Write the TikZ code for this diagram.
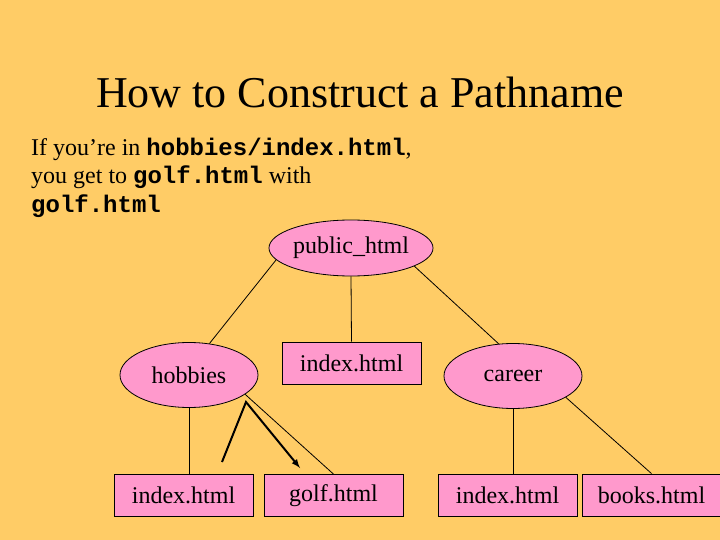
\documentclass[tikz,border=0pt]{standalone}
\usepackage{fontspec}
\setmainfont{Liberation Serif}
\setmonofont{Liberation Mono}
\usetikzlibrary{arrows,shapes.geometric}
\definecolor{slide_orange}{RGB}{255, 204, 102}
\definecolor{file_pink}{RGB}{255, 153, 204}
\tikzstyle{dn}=[ellipse,fill=file_pink,draw=black,
  line width=0.8pt,inner sep=0pt,minimum width=138pt,minimum height=56pt,
  font=\fontsize{24}{28}\selectfont]
\tikzstyle{fn}=[rectangle,fill=file_pink,draw=black,
  line width=0.8pt,inner sep=0pt,minimum width=139pt,minimum height=42pt,
  font=\fontsize{24}{28}\selectfont]
\tikzstyle{txt}=[anchor=base west,inner sep=0pt,font=\fontsize{24}{28}\selectfont]
\tikzstyle{none}=[]
\newcommand{\code}[1]{\texttt{\bfseries #1}}

\begin{document}
\begin{tikzpicture}[x=1pt, y=-1pt]
            \useasboundingbox (0, 0) rectangle (720, 540);
            \fill [slide_orange] (0, 0) rectangle (720, 540);
            \node [style=none, anchor=base, inner sep=0pt, font=\fontsize{44}{52}\selectfont] (0) at (360, 108) {How to Construct a Pathname};
            \node [style=txt] (1) at (31, 156) {If you're in \code{hobbies/index.html},};
            \node [style=txt] (2) at (31, 184) {you get to \code{golf.html} with};
            \node [style=txt] (3) at (31, 212) {\code{golf.html}};
            \node [style=dn] (4) at (351, 248) {public\_html};
            \node [style=dn, minimum height=65pt] (5) at (189, 375) {hobbies};
            \node [style=fn] (6) at (351.5, 363) {index.html};
            \node [style=dn, minimum height=65pt] (7) at (513, 376) {career};
            \node [style=fn] (8) at (183.5, 495.5) {index.html};
            \node [style=fn] (9) at (333.5, 495.5) {golf.html};
            \node [style=fn] (10) at (507.5, 495) {index.html};
            \node [style=fn] (11) at (651.5, 495) {books.html};
            \coordinate (12) at (222, 462);
            \coordinate (13) at (246, 402);
            \coordinate (14) at (300, 468);
            \draw [line width=0.8pt] (4.189) to (5.57);
            \draw [line width=0.8pt] (4.south) to (6.north);
            \draw [line width=0.8pt] (4.344) to (7.114);
            \draw [line width=0.8pt] (5.south) to (5.south |- 8.north);
            \draw [line width=0.8pt] (5.341) to (9.north);
            \draw [line width=0.8pt] (7.south) to (7.south |- 10.north);
            \draw [line width=0.8pt] (7.338) to (11.north);
            \draw [line width=2pt, -latex] (12) -- (13) -- (14);
    \end{tikzpicture}
\end{document}
